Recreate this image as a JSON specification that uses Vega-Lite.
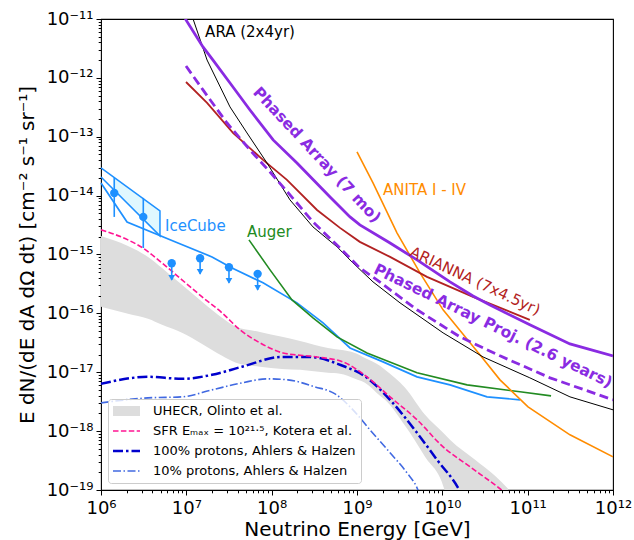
{
  "$schema": "https://vega.github.io/schema/vega-lite/v6.json",
  "width": 512,
  "height": 471,
  "autosize": {"type": "none"},
  "padding": {"left": 101, "top": 19, "right": 21, "bottom": 50},
  "background": "white",
  "datasets": {
    "band": [
      {"E": 1e6, "F": 2.07e-15, "F2": 1.29e-16},
      {"E": 2.07e6, "F": 1.40e-15, "F2": 9.82e-17},
      {"E": 3.56e6, "F": 9.10e-16, "F2": 8.07e-17},
      {"E": 5.19e6, "F": 5.92e-16, "F2": 6.38e-17},
      {"E": 8.89e6, "F": 3.05e-16, "F2": 4.67e-17},
      {"E": 1.53e7, "F": 1.57e-16, "F2": 3.03e-17},
      {"E": 2.62e7, "F": 8.39e-17, "F2": 1.90e-17},
      {"E": 3.82e7, "F": 5.90e-17, "F2": 1.45e-17},
      {"E": 7.29e7, "F": 4.85e-17, "F2": 1.24e-17},
      {"E": 1.32e8, "F": 3.99e-17, "F2": 1.14e-17},
      {"E": 2.15e8, "F": 3.41e-17, "F2": 1.10e-17},
      {"E": 4.57e8, "F": 2.59e-17, "F2": 9.77e-18},
      {"E": 6.32e8, "F": 2.40e-17, "F2": 9.40e-18},
      {"E": 9.48e8, "F": 2.13e-17, "F2": 7.73e-18},
      {"E": 1.24e9, "F": 1.75e-17, "F2": 6.61e-18},
      {"E": 1.86e9, "F": 1.29e-17, "F2": 3.97e-18},
      {"E": 2.13e9, "F": 1.10e-17, "F2": 3.40e-18},
      {"E": 3.66e9, "F": 5.43e-18, "F2": 1.23e-18},
      {"E": 6.27e9, "F": 1.89e-18, "F2": 3.66e-19},
      {"E": 1.05e10, "F": 8.99e-19, "F2": 1.05e-19},
      {"E": 1.23e10, "F": 7.11e-19, "F2": 3e-20},
      {"E": 2.42e10, "F": 3.26e-19, "F2": 3e-20},
      {"E": 4.14e10, "F": 1.74e-19, "F2": 3e-20},
      {"E": 5.89e10, "F": 1.05e-19, "F2": 3e-20}
    ],
    "models": [
      {"model": "SFR Eₘₐₓ = 10²¹·⁵, Kotera et al.", "E": 1e6, "F": 2.62e-15},
      {"model": "SFR Eₘₐₓ = 10²¹·⁵, Kotera et al.", "E": 2.07e6, "F": 1.77e-15},
      {"model": "SFR Eₘₐₓ = 10²¹·⁵, Kotera et al.", "E": 3.10e6, "F": 1.29e-15},
      {"model": "SFR Eₘₐₓ = 10²¹·⁵, Kotera et al.", "E": 5.19e6, "F": 7.19e-16},
      {"model": "SFR Eₘₐₓ = 10²¹·⁵, Kotera et al.", "E": 8.89e6, "F": 3.71e-16},
      {"model": "SFR Eₘₐₓ = 10²¹·⁵, Kotera et al.", "E": 1.53e7, "F": 1.91e-16},
      {"model": "SFR Eₘₐₓ = 10²¹·⁵, Kotera et al.", "E": 2.62e7, "F": 1.02e-16},
      {"model": "SFR Eₘₐₓ = 10²¹·⁵, Kotera et al.", "E": 4.26e7, "F": 5.25e-17},
      {"model": "SFR Eₘₐₓ = 10²¹·⁵, Kotera et al.", "E": 7.29e7, "F": 3.16e-17},
      {"model": "SFR Eₘₐₓ = 10²¹·⁵, Kotera et al.", "E": 1.36e8, "F": 2.13e-17},
      {"model": "SFR Eₘₐₓ = 10²¹·⁵, Kotera et al.", "E": 3.40e8, "F": 1.82e-17},
      {"model": "SFR Eₘₐₓ = 10²¹·⁵, Kotera et al.", "E": 6.85e8, "F": 1.50e-17},
      {"model": "SFR Eₘₐₓ = 10²¹·⁵, Kotera et al.", "E": 1.31e9, "F": 8.36e-18},
      {"model": "SFR Eₘₐₓ = 10²¹·⁵, Kotera et al.", "E": 2.44e9, "F": 3.82e-18},
      {"model": "SFR Eₘₐₓ = 10²¹·⁵, Kotera et al.", "E": 5.05e9, "F": 1.56e-18},
      {"model": "SFR Eₘₐₓ = 10²¹·⁵, Kotera et al.", "E": 1.02e10, "F": 5.41e-19},
      {"model": "SFR Eₘₐₓ = 10²¹·⁵, Kotera et al.", "E": 2.11e10, "F": 2.48e-19},
      {"model": "SFR Eₘₐₓ = 10²¹·⁵, Kotera et al.", "E": 4.74e10, "F": 1.05e-19},
      {"model": "SFR Eₘₐₓ = 10²¹·⁵, Kotera et al.", "E": 6.21e10, "F": 7.67e-20},
      {"model": "100% protons, Ahlers & Halzen", "E": 1e6, "F": 6.35e-18},
      {"model": "100% protons, Ahlers & Halzen", "E": 3.56e6, "F": 8.36e-18},
      {"model": "100% protons, Ahlers & Halzen", "E": 8.89e6, "F": 7.73e-18},
      {"model": "100% protons, Ahlers & Halzen", "E": 2.0e7, "F": 9.04e-18},
      {"model": "100% protons, Ahlers & Halzen", "E": 4.49e7, "F": 1.24e-17},
      {"model": "100% protons, Ahlers & Halzen", "E": 1.32e8, "F": 1.82e-17},
      {"model": "100% protons, Ahlers & Halzen", "E": 2.81e8, "F": 1.82e-17},
      {"model": "100% protons, Ahlers & Halzen", "E": 6.32e8, "F": 1.34e-17},
      {"model": "100% protons, Ahlers & Halzen", "E": 1.31e9, "F": 8.04e-18},
      {"model": "100% protons, Ahlers & Halzen", "E": 2.44e9, "F": 3.40e-18},
      {"model": "100% protons, Ahlers & Halzen", "E": 5.05e9, "F": 9.35e-19},
      {"model": "100% protons, Ahlers & Halzen", "E": 8.67e9, "F": 3.26e-19},
      {"model": "100% protons, Ahlers & Halzen", "E": 1.53e10, "F": 1.09e-19},
      {"model": "100% protons, Ahlers & Halzen", "E": 1.70e10, "F": 8.30e-20},
      {"model": "10% protons, Ahlers & Halzen", "E": 1e6, "F": 3.02e-18},
      {"model": "10% protons, Ahlers & Halzen", "E": 3.56e6, "F": 3.67e-18},
      {"model": "10% protons, Ahlers & Halzen", "E": 8.89e6, "F": 3.82e-18},
      {"model": "10% protons, Ahlers & Halzen", "E": 2.0e7, "F": 5.02e-18},
      {"model": "10% protons, Ahlers & Halzen", "E": 4.49e7, "F": 6.61e-18},
      {"model": "10% protons, Ahlers & Halzen", "E": 9.06e7, "F": 7.73e-18},
      {"model": "10% protons, Ahlers & Halzen", "E": 1.55e8, "F": 7.43e-18},
      {"model": "10% protons, Ahlers & Halzen", "E": 3.22e8, "F": 5.65e-18},
      {"model": "10% protons, Ahlers & Halzen", "E": 5.53e8, "F": 4.30e-18},
      {"model": "10% protons, Ahlers & Halzen", "E": 8.97e8, "F": 2.30e-18},
      {"model": "10% protons, Ahlers & Halzen", "E": 1.42e9, "F": 1.05e-18},
      {"model": "10% protons, Ahlers & Halzen", "E": 2.44e9, "F": 4.29e-19},
      {"model": "10% protons, Ahlers & Halzen", "E": 3.85e9, "F": 1.96e-19},
      {"model": "10% protons, Ahlers & Halzen", "E": 5.05e9, "F": 1.09e-19},
      {"model": "10% protons, Ahlers & Halzen", "E": 5.47e9, "F": 8.30e-20}
    ],
    "pa": [
      {"E": 8.66e6, "F": 1.6e-11}, {"E": 9.91e6, "F": 9.62e-12}, {"E": 1.567e7, "F": 3.35e-12},
      {"E": 2.054e7, "F": 2.01e-12}, {"E": 3.25e7, "F": 8.18e-13}, {"E": 5.57e7, "F": 2.85e-13},
      {"E": 1.04e8, "F": 8.83e-14}, {"E": 1.98e8, "F": 3.59e-14}, {"E": 4.83e8, "F": 9.51e-15},
      {"E": 8.28e8, "F": 4.35e-15}, {"E": 1.08e9, "F": 3.18e-15}, {"E": 2.44e9, "F": 1.57e-15},
      {"E": 5.05e9, "F": 8.09e-16}, {"E": 1.23e10, "F": 3.43e-16}, {"E": 2.29e10, "F": 1.98e-16},
      {"E": 3.62e10, "F": 1.39e-16}, {"E": 1.06e11, "F": 6.38e-17}, {"E": 3.13e11, "F": 3.03e-17},
      {"E": 1e12, "F": 1.90e-17}
    ],
    "paproj": [
      {"E": 9.91e6, "F": 1.59e-12}, {"E": 1.567e7, "F": 6.24e-13}, {"E": 3.0e7, "F": 1.71e-13},
      {"E": 5.57e7, "F": 5.97e-14}, {"E": 9.57e7, "F": 2.52e-14}, {"E": 1.64e8, "F": 1.03e-14},
      {"E": 3.05e8, "F": 3.57e-15}, {"E": 6.32e8, "F": 1.29e-15}, {"E": 1.08e9, "F": 5.92e-16},
      {"E": 1.71e9, "F": 3.71e-16}, {"E": 5.05e9, "F": 1.15e-16}, {"E": 1.61e10, "F": 3.99e-17},
      {"E": 4.74e10, "F": 1.90e-17}, {"E": 1.83e11, "F": 8.04e-18}, {"E": 1e12, "F": 3.40e-18}
    ],
    "ara": [
      {"E": 1.07e7, "F": 1.6e-11}, {"E": 1.20e7, "F": 1e-11}, {"E": 1.75e7, "F": 2.01e-12},
      {"E": 3.25e7, "F": 3.21e-13}, {"E": 5.14e7, "F": 1.16e-13}, {"E": 8.81e7, "F": 3.59e-14},
      {"E": 1.64e8, "F": 8.45e-15}, {"E": 3.05e8, "F": 2.94e-15}, {"E": 5.83e8, "F": 1.35e-15},
      {"E": 8.97e8, "F": 7.19e-16}, {"E": 1.54e9, "F": 3.43e-16}, {"E": 3.19e9, "F": 1.51e-16},
      {"E": 1.02e10, "F": 4.67e-17}, {"E": 3.0e10, "F": 1.82e-17}, {"E": 1.06e11, "F": 8.04e-18},
      {"E": 3.13e11, "F": 3.82e-18}, {"E": 1e12, "F": 2.30e-18}
    ],
    "arianna": [
      {"E": 9.91e6, "F": 8.51e-13}, {"E": 1.75e7, "F": 3.75e-13}, {"E": 3.52e7, "F": 1.16e-13},
      {"E": 7.92e7, "F": 4.04e-14}, {"E": 1.51e8, "F": 1.85e-14}, {"E": 3.40e8, "F": 5.71e-15},
      {"E": 6.32e8, "F": 2.83e-15}, {"E": 1.08e9, "F": 1.64e-15}, {"E": 2.44e9, "F": 9.10e-16},
      {"E": 6.61e9, "F": 4.17e-16}, {"E": 2.29e10, "F": 1.91e-16}, {"E": 1.06e11, "F": 7.76e-17}
    ],
    "anita": [
      {"E": 1e9, "F": 5.52e-14}, {"E": 1.54e9, "F": 1.64e-14}, {"E": 2.94e9, "F": 2.33e-15},
      {"E": 5.47e9, "F": 4.88e-16}, {"E": 1.02e10, "F": 1.15e-16}, {"E": 1.85e10, "F": 3.99e-17},
      {"E": 2.77e10, "F": 1.97e-17}, {"E": 4.74e10, "F": 7.43e-18}, {"E": 1.01e11, "F": 2.59e-18},
      {"E": 3.13e11, "F": 8.65e-19}, {"E": 1e12, "F": 3.66e-19}
    ],
    "auger": [
      {"E": 5.42e7, "F": 1.77e-15}, {"E": 9.57e7, "F": 5.48e-16}, {"E": 1.73e8, "F": 1.69e-16},
      {"E": 3.05e8, "F": 8.39e-17}, {"E": 5.83e8, "F": 3.99e-17}, {"E": 1.31e9, "F": 2.13e-17},
      {"E": 5.05e9, "F": 9.77e-18}, {"E": 1.95e10, "F": 6.11e-18}, {"E": 8.13e10, "F": 4.65e-18},
      {"E": 1.88e11, "F": 3.97e-18}
    ],
    "icecube": [
      {"E": 1e6, "F": 1.64e-14}, {"E": 2.02e6, "F": 3.57e-15}, {"E": 7.98e6, "F": 1.57e-15},
      {"E": 2.0e7, "F": 9.10e-16}, {"E": 3.43e7, "F": 5.92e-16}, {"E": 7.92e7, "F": 3.30e-16},
      {"E": 1.98e8, "F": 1.51e-16}, {"E": 4.0e8, "F": 6.90e-17}, {"E": 8.28e8, "F": 2.59e-17},
      {"E": 2.02e9, "F": 1.50e-17}, {"E": 5.05e9, "F": 8.36e-18}, {"E": 1.23e10, "F": 6.11e-18},
      {"E": 3.34e10, "F": 3.82e-18}, {"E": 8.13e10, "F": 3.40e-18}
    ],
    "icfill": [
      {"E": 1.38e6, "F": 2.10e-14, "F2": 1.30e-14},
      {"E": 4.91e6, "F": 5.50e-15, "F2": 2.07e-15}
    ],
    "icedge": [
      {"i": 0, "E": 1e6, "F": 2.95e-14},
      {"i": 1, "E": 4.91e6, "F": 5.50e-15},
      {"i": 2, "E": 4.91e6, "F": 2.07e-15},
      {"i": 3, "E": 1e6, "F": 2.07e-14}
    ],
    "icerr": [
      {"E": 1.43e6, "F": 4.35e-15, "F2": 2.0e-14},
      {"E": 3.13e6, "F": 1.29e-15, "F2": 9.14e-15}
    ],
    "icpts": [
      {"E": 1.43e6, "F": 1.11e-14},
      {"E": 3.13e6, "F": 4.35e-15},
      {"E": 6.74e6, "F": 7.11e-16},
      {"E": 1.45e7, "F": 8.65e-16},
      {"E": 3.16e7, "F": 6.08e-16},
      {"E": 6.85e7, "F": 4.69e-16}
    ],
    "iculrule": [
      {"E": 6.74e6, "F": 7.11e-16, "F2": 3.71e-16},
      {"E": 1.45e7, "F": 8.65e-16, "F2": 4.69e-16},
      {"E": 3.16e7, "F": 6.08e-16, "F2": 3.30e-16},
      {"E": 6.85e7, "F": 4.69e-16, "F2": 2.51e-16}
    ],
    "icultip": [
      {"E": 6.74e6, "F": 3.71e-16},
      {"E": 1.45e7, "F": 4.69e-16},
      {"E": 3.16e7, "F": 3.30e-16},
      {"E": 6.85e7, "F": 2.51e-16}
    ]
  },
  "encoding": {
    "x": {
      "field": "E", "type": "quantitative",
      "scale": {"type": "log", "domain": [1e6, 1e12], "nice": false},
      "axis": {
        "orient": "bottom",
        "title": "Neutrino Energy [GeV]",
        "values": [1e6, 2e6, 3e6, 4e6, 5e6, 6e6, 7e6, 8e6, 9e6,
                   1e7, 2e7, 3e7, 4e7, 5e7, 6e7, 7e7, 8e7, 9e7,
                   1e8, 2e8, 3e8, 4e8, 5e8, 6e8, 7e8, 8e8, 9e8,
                   1e9, 2e9, 3e9, 4e9, 5e9, 6e9, 7e9, 8e9, 9e9,
                   1e10, 2e10, 3e10, 4e10, 5e10, 6e10, 7e10, 8e10, 9e10,
                   1e11, 2e11, 3e11, 4e11, 5e11, 6e11, 7e11, 8e11, 9e11, 1e12],
        "labelExpr": "abs(log(datum.value)/LN10 - round(log(datum.value)/LN10)) < 0.01 ? ['10⁶','10⁷','10⁸','10⁹','10¹⁰','10¹¹','10¹²'][round(log(datum.value)/LN10) - 6] : ''",
        "tickSize": {"condition": {"test": "abs(log(datum.value)/LN10 - round(log(datum.value)/LN10)) < 0.01", "value": 5}, "value": 2.8},
        "tickColor": "#000000", "tickWidth": 1,
        "labelFontSize": 18, "labelColor": "#000000", "labelPadding": 4,
        "labelOverlap": false, "labelFlush": false, "labelBound": false,
        "titleFontSize": 20, "titleFontWeight": "normal", "titleColor": "#000000", "titlePadding": 2,
        "domain": false, "grid": false
      }
    },
    "y": {
      "field": "F", "type": "quantitative",
      "scale": {"type": "log", "domain": [1e-19, 1e-11], "nice": false},
      "axis": {
        "orient": "left",
        "title": "E dN/(dE dA dΩ dt) [cm⁻² s⁻¹ sr⁻¹]",
        "values": [1e-19, 2e-19, 3e-19, 4e-19, 5e-19, 6e-19, 7e-19, 8e-19, 9e-19,
                   1e-18, 2e-18, 3e-18, 4e-18, 5e-18, 6e-18, 7e-18, 8e-18, 9e-18,
                   1e-17, 2e-17, 3e-17, 4e-17, 5e-17, 6e-17, 7e-17, 8e-17, 9e-17,
                   1e-16, 2e-16, 3e-16, 4e-16, 5e-16, 6e-16, 7e-16, 8e-16, 9e-16,
                   1e-15, 2e-15, 3e-15, 4e-15, 5e-15, 6e-15, 7e-15, 8e-15, 9e-15,
                   1e-14, 2e-14, 3e-14, 4e-14, 5e-14, 6e-14, 7e-14, 8e-14, 9e-14,
                   1e-13, 2e-13, 3e-13, 4e-13, 5e-13, 6e-13, 7e-13, 8e-13, 9e-13,
                   1e-12, 2e-12, 3e-12, 4e-12, 5e-12, 6e-12, 7e-12, 8e-12, 9e-12, 1e-11],
        "labelExpr": "abs(log(datum.value)/LN10 - round(log(datum.value)/LN10)) < 0.01 ? ['10⁻¹⁹','10⁻¹⁸','10⁻¹⁷','10⁻¹⁶','10⁻¹⁵','10⁻¹⁴','10⁻¹³','10⁻¹²','10⁻¹¹'][round(log(datum.value)/LN10) + 19] : ''",
        "tickSize": {"condition": {"test": "abs(log(datum.value)/LN10 - round(log(datum.value)/LN10)) < 0.01", "value": 5}, "value": 2.8},
        "tickColor": "#000000", "tickWidth": 1,
        "labelFontSize": 18, "labelColor": "#000000", "labelPadding": 3,
        "labelOverlap": false, "labelFlush": false, "labelBound": false,
        "titleFontSize": 20, "titleFontWeight": "normal", "titleColor": "#000000", "titlePadding": 9,
        "domain": false, "grid": false
      }
    }
  },
  "layer": [
    {
      "data": {"name": "band"},
      "mark": {"type": "area", "color": "#dddddd", "opacity": 1, "interpolate": "monotone", "clip": true},
      "encoding": {"y2": {"field": "F2"}}
    },
    {
      "data": {"name": "models"},
      "transform": [{"filter": "datum.model === '10% protons, Ahlers & Halzen'"}],
      "mark": {"type": "line", "interpolate": "monotone", "clip": true, "strokeWidth": 1.6},
      "encoding": {
        "stroke": {
          "field": "model", "type": "nominal",
          "scale": {"domain": ["UHECR, Olinto et al.", "SFR Eₘₐₓ = 10²¹·⁵, Kotera et al.", "100% protons, Ahlers & Halzen", "10% protons, Ahlers & Halzen"],
                    "range": ["#dddddd", "#ff1493", "#0000cd", "#4169e1"]},
          "legend": {"title": null, "orient": "bottom-left", "offset": 7, "padding": 5, "strokeColor": "#cccccc", "fillColor": "rgba(255,255,255,0.8)", "cornerRadius": 3, "labelFontSize": 13, "labelColor": "#000000", "labelLimit": 400, "symbolType": "stroke", "symbolSize": 729, "symbolOffset": 7, "clipHeight": 14, "rowPadding": 6, "labelOffset": 20,
            "encode": {"symbols": {"update": {"strokeWidth": {"signal": "datum.value === 'UHECR, Olinto et al.' ? 10 : (datum.value === '100% protons, Ahlers & Halzen' ? 2.5 : 1.6)"}}}}}
        },
        "strokeDash": {
          "field": "model", "type": "nominal",
          "scale": {"domain": ["UHECR, Olinto et al.", "SFR Eₘₐₓ = 10²¹·⁵, Kotera et al.", "100% protons, Ahlers & Halzen", "10% protons, Ahlers & Halzen"],
                    "range": [[1, 0], [5.5, 2.4], [10, 3, 2.5, 3], [8, 2.5, 1.5, 2.5]]},
          "legend": {"title": null, "orient": "bottom-left", "offset": 7, "padding": 5, "strokeColor": "#cccccc", "fillColor": "rgba(255,255,255,0.8)", "cornerRadius": 3, "labelFontSize": 13, "labelColor": "#000000", "labelLimit": 400, "symbolType": "stroke", "symbolSize": 729, "symbolOffset": 7, "clipHeight": 14, "rowPadding": 6, "labelOffset": 20}
        }
      }
    },
    {
      "data": {"name": "models"},
      "transform": [{"filter": "datum.model === '100% protons, Ahlers & Halzen'"}],
      "mark": {"type": "line", "interpolate": "monotone", "clip": true, "strokeWidth": 2.5},
      "encoding": {
        "stroke": {"field": "model", "type": "nominal"},
        "strokeDash": {"field": "model", "type": "nominal"}
      }
    },
    {
      "data": {"name": "models"},
      "transform": [{"filter": "datum.model === 'SFR Eₘₐₓ = 10²¹·⁵, Kotera et al.'"}],
      "mark": {"type": "line", "interpolate": "monotone", "clip": true, "strokeWidth": 1.6},
      "encoding": {
        "stroke": {"field": "model", "type": "nominal"},
        "strokeDash": {"field": "model", "type": "nominal"}
      }
    },
    {
      "data": {"name": "icfill"},
      "mark": {"type": "area", "color": "#e0f8ff", "opacity": 1},
      "encoding": {"y2": {"field": "F2"}}
    },
    {
      "data": {"name": "icedge"},
      "mark": {"type": "line", "color": "#1e90ff", "strokeWidth": 1.5},
      "encoding": {"order": {"field": "i", "type": "quantitative"}}
    },
    {
      "data": {"name": "icecube"},
      "mark": {"type": "line", "color": "#1e90ff", "strokeWidth": 1.7},
      "encoding": {}
    },
    {
      "data": {"name": "icerr"},
      "mark": {"type": "rule", "color": "#1e90ff", "strokeWidth": 1.6},
      "encoding": {"y2": {"field": "F2"}}
    },
    {
      "data": {"name": "iculrule"},
      "mark": {"type": "rule", "color": "#1e90ff", "strokeWidth": 1.6},
      "encoding": {"y2": {"field": "F2"}}
    },
    {
      "data": {"name": "icultip"},
      "mark": {"type": "point", "shape": "triangle-down", "filled": true, "color": "#1e90ff", "size": 45, "opacity": 1, "yOffset": -2},
      "encoding": {}
    },
    {
      "data": {"name": "icpts"},
      "mark": {"type": "point", "shape": "circle", "filled": true, "color": "#1e90ff", "size": 70, "opacity": 1},
      "encoding": {}
    },
    {
      "data": {"name": "auger"},
      "mark": {"type": "line", "color": "#228b22", "strokeWidth": 1.6},
      "encoding": {}
    },
    {
      "data": {"name": "anita"},
      "mark": {"type": "line", "color": "#ff8c00", "strokeWidth": 1.6, "clip": true},
      "encoding": {}
    },
    {
      "data": {"name": "arianna"},
      "mark": {"type": "line", "color": "#b22222", "strokeWidth": 1.8},
      "encoding": {}
    },
    {
      "data": {"name": "ara"},
      "mark": {"type": "line", "color": "#000000", "strokeWidth": 1, "clip": true},
      "encoding": {}
    },
    {
      "data": {"name": "paproj"},
      "mark": {"type": "line", "color": "#8a2be2", "strokeWidth": 2.8, "strokeDash": [9, 4.5], "clip": true},
      "encoding": {}
    },
    {
      "data": {"name": "pa"},
      "mark": {"type": "line", "color": "#8a2be2", "strokeWidth": 2.8, "clip": true},
      "encoding": {}
    },
    {
      "data": {"values": [{"E": 1.66e7, "F": 6.01e-12, "label": "ARA (2x4yr)"}]},
      "mark": {"type": "text", "align": "left", "baseline": "middle", "fontSize": 15, "color": "#000000"},
      "encoding": {"text": {"field": "label"}}
    },
    {
      "data": {"values": [{"E": 3.40e8, "F": 4.91e-14, "label": "Phased Array (7 mo)"}]},
      "mark": {"type": "text", "align": "center", "baseline": "middle", "fontSize": 15.5, "fontWeight": "bold", "angle": 47, "color": "#8a2be2"},
      "encoding": {"text": {"field": "label"}}
    },
    {
      "data": {"values": [{"E": 2.02e9, "F": 1.25e-14, "label": "ANITA I - IV"}]},
      "mark": {"type": "text", "align": "left", "baseline": "middle", "fontSize": 15, "color": "#ff8c00"},
      "encoding": {"text": {"field": "label"}}
    },
    {
      "data": {"values": [{"E": 5.62e6, "F": 3.06e-15, "label": "IceCube"}]},
      "mark": {"type": "text", "align": "left", "baseline": "middle", "fontSize": 15, "color": "#1e90ff"},
      "encoding": {"text": {"field": "label"}}
    },
    {
      "data": {"values": [{"E": 5.14e7, "F": 2.42e-15, "label": "Auger"}]},
      "mark": {"type": "text", "align": "left", "baseline": "middle", "fontSize": 15, "color": "#228b22"},
      "encoding": {"text": {"field": "label"}}
    },
    {
      "data": {"values": [{"E": 2.42e10, "F": 3.56e-16, "label": "ARIANNA (7x4.5yr)"}]},
      "mark": {"type": "text", "align": "center", "baseline": "middle", "fontSize": 15, "angle": 25, "color": "#b22222"},
      "encoding": {"text": {"field": "label"}}
    },
    {
      "data": {"values": [{"E": 3.93e10, "F": 6.14e-17, "label": "Phased Array Proj. (2.6 years)"}]},
      "mark": {"type": "text", "align": "center", "baseline": "middle", "fontSize": 15.5, "fontWeight": "bold", "angle": 26, "color": "#8a2be2"},
      "encoding": {"text": {"field": "label"}}
    }
  ],
  "config": {
    "view": {"stroke": "#000000", "strokeWidth": 1.1},
    "font": "DejaVu Sans",
    "axis": {"labelFont": "DejaVu Sans", "titleFont": "DejaVu Sans"},
    "legend": {"labelFont": "DejaVu Sans"},
    "text": {"font": "DejaVu Sans"}
  }
}
